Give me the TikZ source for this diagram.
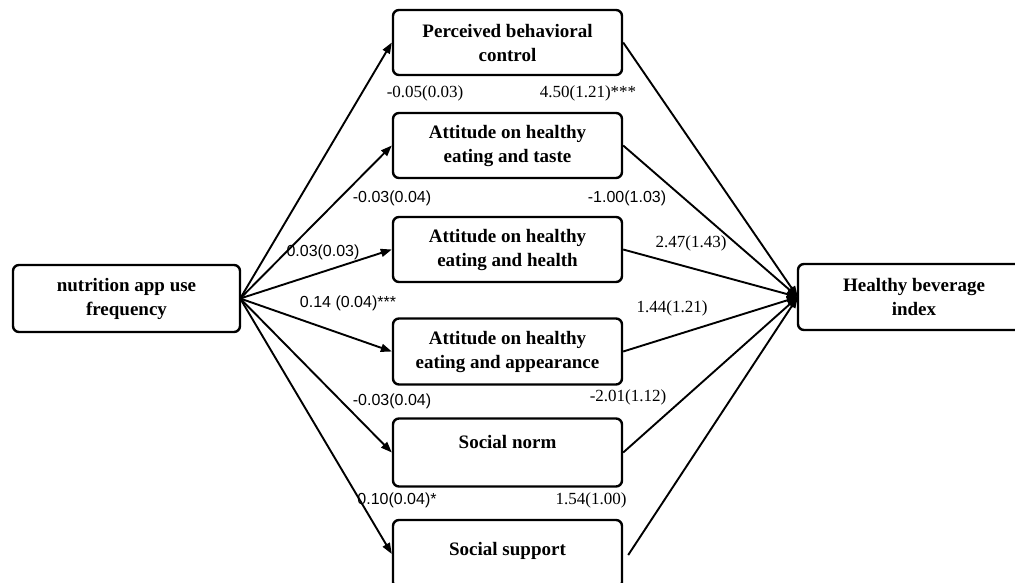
\documentclass[tikz,border=0pt]{standalone}
\usepackage{fontspec}
\setmainfont{Liberation Serif}
\newfontfamily\lblsans{Liberation Sans}
\usetikzlibrary{arrows.meta}
\tikzset{
  box/.style={draw, line width=2.4pt, rounded corners=6pt, inner sep=0pt, align=center,
    font=\fontsize{19}{24}\selectfont\bfseries},
  conn/.style={line width=1.9pt, -{Triangle[length=11pt,width=8pt]}},
  lbls/.style={font=\lblsans\fontsize{16}{18}\selectfont, inner sep=0pt},
  lblr/.style={font=\fontsize{17}{19}\selectfont, inner sep=0pt}
}
\begin{document}
\begin{tikzpicture}[x=1pt,y=-1pt]
\clip (0,0) rectangle (1015,582);
\fill[white] (0,0) rectangle (1015,582);
% nodes
\node[box, minimum width=227pt, minimum height=67pt] (src) at (126.5,298.5) {nutrition app use\\frequency};
\node[box, minimum width=232pt, minimum height=66pt] (dst) at (914,297) {Healthy beverage\\index};
\node[box, minimum width=229pt, minimum height=65pt] (m1) at (507.5,42.5) {Perceived behavioral\\control};
\node[box, minimum width=229pt, minimum height=65pt] (m2) at (507.5,145.5) {Attitude on healthy\\eating and taste};
\node[box, minimum width=229pt, minimum height=65pt] (m3) at (507.5,249.5) {Attitude on healthy\\eating and health};
\node[box, minimum width=229pt, minimum height=66pt] (m4) at (507.5,351.5) {Attitude on healthy\\eating and appearance};
\node[box, minimum width=229pt, minimum height=68pt, text height=13pt, text depth=21pt] (m5) at (507.5,452.5) {Social norm};
\node[box, minimum width=229pt, minimum height=68pt, text height=13pt, text depth=11pt] (m6) at (507.5,554) {Social support};
% connectors left
\coordinate (s) at ([xshift=-1pt]src.east);
\foreach \m in {m1,m2,m3,m4,m5,m6}{
  \draw[conn] (s) -- (\m.west);
}
% connectors right
\coordinate (t) at ([xshift=1pt]dst.west);
\foreach \m in {m1,m2,m3,m4,m5}{
  \draw[conn] (\m.east) -- (t);
}
\coordinate (m6r) at ([xshift=5pt,yshift=-1pt]m6.east);
\draw[conn] (m6r) -- (t);
% labels
\node[lblr] (l1) at (425,93) {-0.05(0.03)};
\node[lblr] (r1) at (588,93) {4.50(1.21)***};
\node[lbls] (l2) at (392,198) {-0.03(0.04)};
\node[lbls] (r2) at (627,198) {-1.00(1.03)};
\node[lbls] (l3) at (323,252) {0.03(0.03)};
\node[lblr] (r3) at (691,243) {2.47(1.43)};
\node[lbls] (l4) at (348,303) {0.14 (0.04)***};
\node[lblr] (r4) at (672,308) {1.44(1.21)};
\node[lbls] (l5) at (392,401) {-0.03(0.04)};
\node[lblr] (r5) at (628,397) {-2.01(1.12)};
\node[lbls] (l6) at (397,500) {0.10(0.04)*};
\node[lblr] (r6) at (591,500) {1.54(1.00)};
\end{tikzpicture}
\end{document}
